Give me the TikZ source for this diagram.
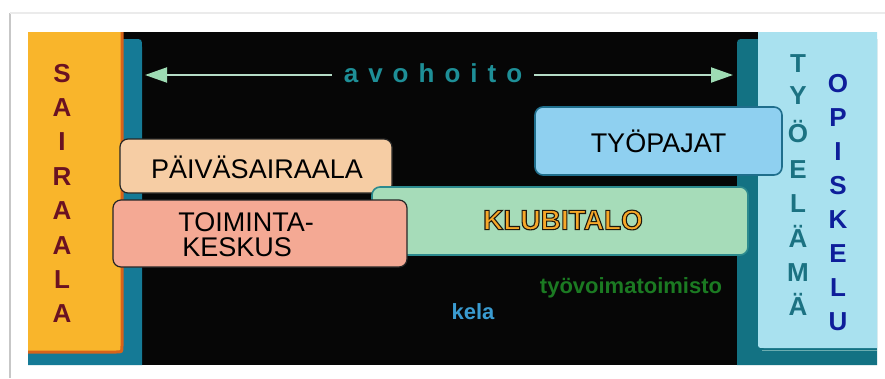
\documentclass[tikz,border=0pt]{standalone}
\usepackage{fontspec}
\setmainfont{Liberation Sans}
\usetikzlibrary{arrows.meta}

\definecolor{panelbg}{HTML}{060606}
\definecolor{sunyellow}{HTML}{F9B52B}
\definecolor{rimorange}{HTML}{D8631A}
\definecolor{tealleft}{HTML}{157A96}
\definecolor{tealright}{HTML}{137283}
\definecolor{skyside}{HTML}{A9E1EF}
\definecolor{peach}{HTML}{F6CDA4}
\definecolor{salmon}{HTML}{F4A994}
\definecolor{mint}{HTML}{A6DCB9}
\definecolor{mintedge}{HTML}{2C8A8E}
\definecolor{skybox}{HTML}{8FD0F0}
\definecolor{skyedge}{HTML}{1F6E8C}
\definecolor{arrowline}{HTML}{B4DCC6}
\definecolor{arrowhead}{HTML}{9EDCB4}
\definecolor{avoteal}{HTML}{1E8F97}
\definecolor{maroon}{HTML}{6A1222}
\definecolor{worklife}{HTML}{1B7282}
\definecolor{studyblue}{HTML}{0E1E9A}
\definecolor{jobgreen}{HTML}{1B7A22}
\definecolor{kelablue}{HTML}{3A9BD0}
\definecolor{klubiorange}{HTML}{F7A829}

\newcommand\avogap{\hspace{10pt}}
% orange letters with a dark stroked outline (PDF text render mode 2)
\newcommand\outlinedword[1]{%
  \special{pdf:literal 2 Tr 1.1 w 0.12 0.1 0.05 RG}#1\special{pdf:literal 0 Tr}}

\tikzset{
  stagebox/.style={rounded corners=8pt, line width=1.2pt, draw=black!85, inner sep=0pt},
  boxtext/.style={font=\fontsize{27}{25}\selectfont, text=black, inner sep=0pt},
  sideletter/.style={font=\fontsize{26}{26}\selectfont\bfseries, inner sep=0pt, anchor=base},
  smalllabel/.style={font=\fontsize{22}{22}\selectfont\bfseries, inner sep=0pt},
  flowline/.style={draw=arrowline, line width=2pt},
  flowtip/.tip={Triangle[length=22pt, width=15pt, fill=arrowhead, color=arrowhead]}
}

\begin{document}
\begin{tikzpicture}[x=1pt, y=-1pt]
\useasboundingbox (0,0) rectangle (885,378);
\fill[white] (0,0) rectangle (885,378);

% faint card edge
\draw[black!22, line width=2pt] (10,13) -- (10,378);
\draw[black!8, line width=1.5pt] (10,13) -- (885,13);

% dark stage
\fill[panelbg] (28,32) rectangle (877,365);

% left column: teal rim and yellow block
\fill[tealleft] (28,365) -- (28,39) -- (134,39) .. controls (142,39) .. (142,47) -- (142,365) -- cycle;
\fill[sunyellow] (28,32) -- (122,32) -- (122,346) .. controls (122,352) .. (116,352) -- (28,352) -- cycle;
\draw[rimorange, line width=3pt] (122,32) -- (122,346) .. controls (122,352) .. (116,352) -- (28,352);

% right column: teal rim and light blue block
\fill[tealright] (877,365) -- (737,365) -- (737,47) .. controls (737,39) .. (745,39) -- (877,39) -- cycle;
\fill[skyside] (877,32) -- (758,32) -- (758,342) .. controls (758,348) .. (764,348) -- (877,348) -- cycle;
\draw[mintedge!70!white, line width=1pt] (762,350) -- (877,350);

% avohoito arrow
\coordinate (arrowstart) at (145,75);
\coordinate (arrowend) at (733,75);
\node[font=\fontsize{26}{26}\selectfont\bfseries, text=avoteal, inner xsep=12pt, inner ysep=0pt]
  (avo) at (433,73) {a\avogap v\avogap o\avogap h\avogap o\avogap i\avogap t\avogap o};
\draw[flowline, flowtip-] (arrowstart) -- (avo.west |- arrowstart);
\draw[flowline, -flowtip] (avo.east |- arrowend) -- (arrowend);

% stage boxes
\node[stagebox, fill=peach, minimum width=272pt, minimum height=54pt] (paiva) at (256,166) {};
\node[stagebox, fill=mint, draw=mintedge, line width=1.6pt, minimum width=376pt, minimum height=68pt] (klubi) at (560,221) {};
\node[stagebox, fill=salmon, minimum width=294pt, minimum height=67pt] (toim) at (260,233.5) {};
\node[stagebox, fill=skybox, draw=skyedge, line width=1.6pt, minimum width=247pt, minimum height=68pt] (paja) at (658.5,141) {};

\node[boxtext] (paivatext) at (257,167) {PÄIVÄSAIRAALA};
\node[boxtext, align=left] (toimtext) at (246,235) {TOIMINTA-\\\hspace{4pt}KESKUS};
\node[boxtext] (pajatext) at (658.5,141) {TYÖPAJAT};
\node[font=\fontsize{28}{28}\selectfont\bfseries, text=klubiorange, inner sep=0pt] (klubitext) at (563,220)
  {\outlinedword{KLUBITALO}};

% side labels
\node[smalllabel, text=jobgreen] (tyovoima) at (631,288) {työvoimatoimisto};
\node[smalllabel, text=kelablue] (kela) at (473,312) {kela};

% vertical words
\foreach \ch [count=\i from 0] in {S,A,I,R,A,A,L,A}
  \node[sideletter, text=maroon] (sair\i) at (62,{82+34.4*\i}) {\ch};
\foreach \ch/\b [count=\i] in {T/72,Y/104,Ö/142,E/178,L/212,Ä/247,M/281,Ä/315}
  \node[sideletter, text=worklife] (tyo\i) at (798,\b) {\ch};
\foreach \ch [count=\i from 0] in {O,P,I,S,K,E,L,U}
  \node[sideletter, text=studyblue] (opis\i) at (838,{92+34*\i}) {\ch};
\end{tikzpicture}
\end{document}
